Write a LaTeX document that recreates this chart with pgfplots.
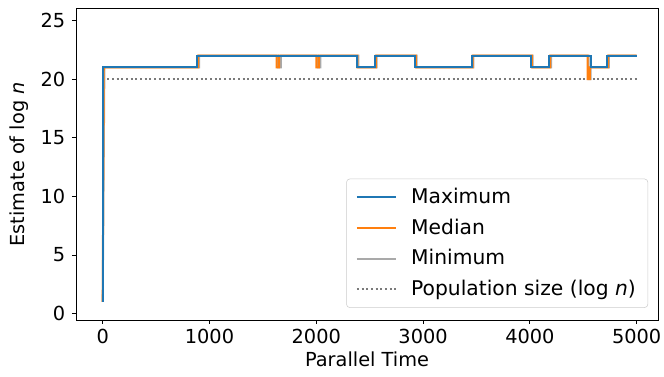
\documentclass[border=0pt]{standalone}
\usepackage{pgfplots}
\pgfplotsset{compat=1.18}
\usepackage{fontspec}
\setmainfont{DejaVu Sans}
\definecolor{tblue}{HTML}{1F77B4}
\definecolor{torange}{HTML}{FF7F0E}
\definecolor{tgray}{HTML}{A9A9A9}
\definecolor{pgray}{HTML}{7A7A7A}
\begin{document}
\fontsize{14.5}{17}\selectfont
\begin{tikzpicture}
\begin{axis}[
  name=ax,
  scale only axis,
  width=436.5pt, height=233.5pt,
  xmin=-250, xmax=5200, ymin=-0.55, ymax=26,
  xtick={0,1000,2000,3000,4000,5000},
  ytick={0,5,10,15,20,25},
  /pgf/number format/1000 sep={},
  /pgf/number format/assume math mode=true,
  tick align=outside, xtick pos=left, ytick pos=left,
  major tick length=3pt,
  tick style={black, line width=0.6pt},
  axis line style={line width=0.6pt},
  ticklabel style={font=\fontsize{14.5}{17}\selectfont},
  xticklabel style={yshift=1pt},
  label style={font=\fontsize{14.5}{17}\selectfont},
  xlabel={Parallel Time},
  ylabel={Estimate of log \textit{n}},
  xlabel style={yshift=4pt},
  ylabel style={yshift=-1pt},
  legend style={at={(0.983,0.039)}, anchor=south east, draw=black!20, rounded corners=2.5pt,
    fill=white, fill opacity=0.8, text opacity=1, font=\fontsize{15.2}{17}\selectfont,
    inner xsep=7pt, inner ysep=5pt, row sep=5.2pt, column sep=9pt},
  legend cell align=left,
  legend image code/.code={\draw[#1] (0pt,0pt) -- (29pt,0pt);},
]
\addlegendimage{tblue, line width=1.5pt}
\addlegendentry{Maximum}
\addlegendimage{torange, line width=1.5pt}
\addlegendentry{Median}
\addlegendimage{tgray, line width=1.5pt}
\addlegendentry{Minimum}
\addlegendimage{pgray, line width=1.5pt, dash pattern=on 1.5pt off 2pt}
\addlegendentry{Population size (log \textit{n})}

% Population size
\addplot[forget plot, pgray, line width=1.5pt, dash pattern=on 1.5pt off 2pt] coordinates {(0,20) (5000,20)};
% Minimum
\addplot[forget plot, tgray, line width=1.5pt] coordinates {
(0,1) (16,21) (902,21) (902,22) (1642,22) (1642,21) (1668,21) (1668,22)
(2014,22) (2014,21) (2038,21) (2038,22) (2394,22) (2394,21) (2566,21) (2566,22)
(2940,22) (2940,21) (3471,21) (3471,22) (4026,22) (4026,21) (4198,21) (4198,22)
(4550,22) (4550,20) (4570,20) (4570,21) (4741,21) (4741,22) (5000,22)};
% Median
\addplot[forget plot, torange, line width=1.5pt] coordinates {
(0,1) (10,21) (894,21) (894,22) (1628,22) (1628,21) (1652,21) (1652,22)
(2000,22) (2000,21) (2024,21) (2024,22) (2386,22) (2386,21) (2558,21) (2558,22)
(2932,22) (2932,21) (3463,21) (3463,22) (4018,22) (4018,21) (4190,21) (4190,22)
(4540,22) (4540,20) (4562,20) (4562,21) (4733,21) (4733,22) (5000,22)};
% Maximum
\addplot[forget plot, tblue, line width=1.5pt] coordinates {
(0,1) (0,21) (886,21) (886,22) (2378,22) (2378,21) (2550,21) (2550,22)
(2924,22) (2924,21) (3455,21) (3455,22) (4010,22) (4010,21) (4182,21) (4182,22)
(4572,22) (4572,21) (4725,21) (4725,22) (5000,22)};
\end{axis}
\pgfresetboundingbox
\path ([shift={(-57pt,-42.75pt)}]ax.south west) rectangle ([shift={(4.5pt,6.5pt)}]ax.north east);
\end{tikzpicture}
\end{document}
